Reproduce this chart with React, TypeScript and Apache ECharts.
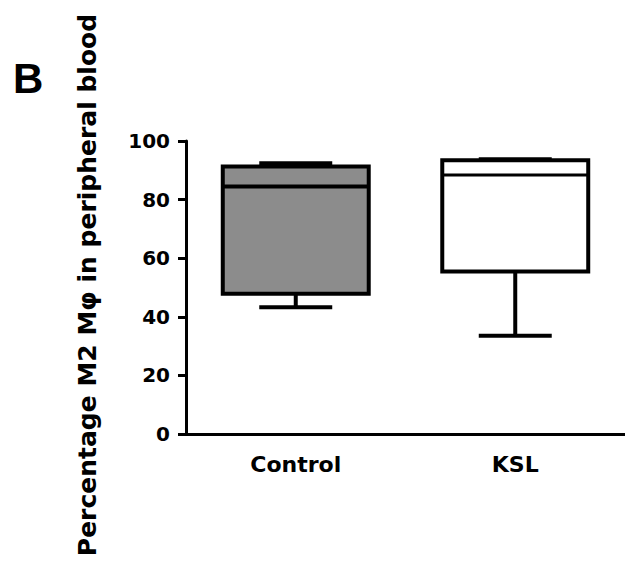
import React, { useEffect, useRef } from "react";
import * as echarts from "echarts";

// ---- data ----
const categories = ["Control", "KSL"];
// [min, Q1, median, Q3, max]
const controlBox = [43.3, 47.9, 84.5, 91.3, 92.4];
const kslBox = [33.5, 55.5, 88.4, 93.4, 93.8];
const yTickValues = [0, 20, 40, 60, 80, 100];
const yAxisTitle = "Percentage M2 Mφ in peripheral blood";
const panelLabel = "B";

// ---- styles ----
const boxFills = ["#8c8c8c", "#ffffff"];
const medianWidths = [4, 3];

export default function App() {
  const ref = useRef<HTMLDivElement | null>(null);

  useEffect(() => {
    if (!ref.current) return;
    const chart = echarts.init(ref.current, undefined, { renderer: "svg" });
    const boxes = [controlBox, kslBox];
    const seriesData = boxes.map((b, i) => [i, ...b]);

    const option: any = {
      animation: false,
      backgroundColor: "#ffffff",
      grid: { left: 186, right: 0, top: 141, bottom: 131, containLabel: false },
      xAxis: {
        type: "category",
        data: categories,
        boundaryGap: true,
        axisLine: { show: true, lineStyle: { color: "#000", width: 3 } },
        axisTick: { show: false },
        splitLine: { show: false },
        axisLabel: {
          color: "#000",
          fontFamily: "DejaVu Sans",
          fontWeight: "bold",
          fontSize: 22,
          margin: 19,
        },
      },
      yAxis: {
        type: "value",
        min: yTickValues[0],
        max: yTickValues[yTickValues.length - 1],
        interval: yTickValues[1] - yTickValues[0],
        splitLine: { show: false },
        axisLine: { show: true, lineStyle: { color: "#000", width: 3 } },
        axisTick: { show: true, length: 8, lineStyle: { color: "#000", width: 3 } },
        axisLabel: {
          color: "#000",
          fontFamily: "DejaVu Sans",
          fontWeight: "bold",
          fontSize: 20,
          margin: 16,
        },
      },
      graphic: [
        {
          type: "text",
          left: 13,
          top: 57,
          style: {
            text: panelLabel,
            fill: "#000",
            font: "bold 42px 'Liberation Sans', Arial, sans-serif",
          },
        },
        {
          type: "text",
          x: 87,
          y: 285,
          rotation: Math.PI / 2,
          style: {
            text: yAxisTitle,
            fill: "#000",
            font: "bold 25px 'DejaVu Sans', sans-serif",
            align: "center",
            verticalAlign: "middle",
          },
        },
      ],
      series: [
        {
          type: "custom",
          data: seriesData,
          encode: { x: 0, y: [1, 2, 3, 4, 5] },
          renderItem: (params: any, api: any) => {
            const idx = api.value(0);
            const mn = api.value(1);
            const q1 = api.value(2);
            const med = api.value(3);
            const q3 = api.value(4);
            const mx = api.value(5);
            const band = api.size([1, 0])[0];
            const boxW = band * 0.665;
            const capW = boxW * 0.5;
            const cx = api.coord([idx, 0])[0];
            const yOf = (v: number) => api.coord([idx, v])[1];
            const lw = 4;
            const stroke = { stroke: "#000", lineWidth: lw, lineCap: "butt" };
            return {
              type: "group",
              children: [
                {
                  type: "line",
                  shape: { x1: cx, y1: yOf(q1), x2: cx, y2: yOf(mn) },
                  style: stroke,
                },
                {
                  type: "line",
                  shape: { x1: cx - capW / 2, y1: yOf(mn), x2: cx + capW / 2, y2: yOf(mn) },
                  style: stroke,
                },
                {
                  type: "line",
                  shape: { x1: cx, y1: yOf(q3), x2: cx, y2: yOf(mx) },
                  style: stroke,
                },
                {
                  type: "line",
                  shape: { x1: cx - capW / 2, y1: yOf(mx), x2: cx + capW / 2, y2: yOf(mx) },
                  style: stroke,
                },
                {
                  type: "rect",
                  shape: {
                    x: cx - boxW / 2,
                    y: yOf(q3),
                    width: boxW,
                    height: yOf(q1) - yOf(q3),
                  },
                  style: { fill: boxFills[idx], stroke: "#000", lineWidth: lw },
                },
                {
                  type: "line",
                  shape: { x1: cx - boxW / 2, y1: yOf(med), x2: cx + boxW / 2, y2: yOf(med) },
                  style: { stroke: "#000", lineWidth: medianWidths[idx] },
                },
              ],
            };
          },
        },
      ],
    };

    chart.setOption(option);
    return () => chart.dispose();
  }, []);

  return (
    <div
      ref={ref}
      style={{ position: "absolute", left: 0, top: 0, width: 625, height: 565 }}
    />
  );
}
